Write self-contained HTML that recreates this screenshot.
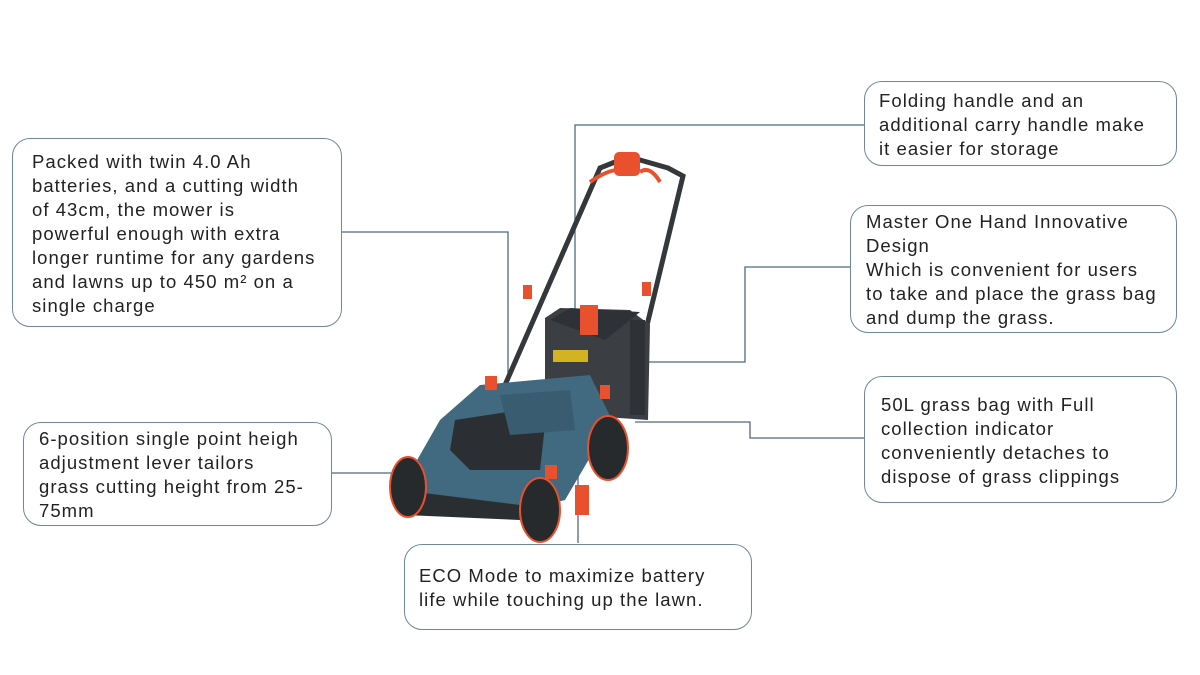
<!DOCTYPE html>
<html><head><meta charset="utf-8"><style>
body{margin:0;width:1200px;height:675px;background:#fff;position:relative;overflow:hidden;font-family:"Liberation Sans",sans-serif;}
.b{position:absolute;border:1.5px solid #6e8898;border-radius:18px;box-sizing:border-box;font-size:18.5px;line-height:24px;color:#222;letter-spacing:1.05px;white-space:nowrap}
svg{position:absolute;left:0;top:0}
</style></head><body>
<svg width="1200" height="675">
<g fill="none" stroke="#4d6b7e" stroke-width="1.3">
<polyline points="342,232 508,232 508,395"/>
<polyline points="864,125 575,125 575,370"/>
<polyline points="850,267 745,267 745,362 640,362"/>
<polyline points="864,438 750,438 750,422 635,422"/>
<polyline points="332,473 463,473"/>
<polyline points="578,543 578,477 537,477 535,410"/>
</g>
<!-- mower -->
<g>
<g fill="none" stroke="#34383b" stroke-width="5" stroke-linecap="round">
<polyline points="505,385 600,168 620,160"/>
<polyline points="640,160 668,168 683,176 635,375"/>
</g>
<path d="M590,182 Q615,165 625,172 M640,172 Q650,165 660,182" stroke="#e8502e" stroke-width="4" fill="none"/>
<rect x="614" y="152" width="26" height="24" rx="5" fill="#e8502e"/>
<polygon points="545,318 560,308 630,310 650,325 648,420 575,415 545,395" fill="#3b3f44"/>
<polygon points="550,320 570,308 640,312 605,340" fill="#2e3236"/>
<rect x="580" y="305" width="18" height="30" fill="#e8502e"/>
<rect x="553" y="350" width="35" height="12" fill="#d4b320"/>
<polygon points="480,385 590,375 612,420 565,500 520,512 400,490 440,420" fill="#41697f"/>
<polygon points="455,420 520,410 545,425 540,470 470,470 450,450" fill="#2b2f33"/>
<polygon points="500,395 570,390 575,430 510,435" fill="#3a5c70"/>
<polygon points="400,490 520,505 520,520 405,515" fill="#2b2e31"/>
<ellipse cx="408" cy="487" rx="18" ry="30" fill="#262a2d" stroke="#e8502e" stroke-width="2"/>
<ellipse cx="540" cy="510" rx="20" ry="32" fill="#262a2d" stroke="#e8502e" stroke-width="2"/>
<ellipse cx="608" cy="448" rx="20" ry="32" fill="#262a2d" stroke="#e8502e" stroke-width="2"/>
<rect x="485" y="376" width="12" height="14" fill="#e8502e"/>
<rect x="600" y="385" width="10" height="14" fill="#e8502e"/>
<rect x="523" y="285" width="9" height="14" fill="#e8502e"/>
<rect x="642" y="282" width="9" height="14" fill="#e8502e"/>
<rect x="545" y="465" width="12" height="14" fill="#e8502e"/>
<rect x="575" y="485" width="14" height="30" fill="#e8502e"/>
<rect x="630" y="320" width="15" height="95" fill="#2e3236"/>
</g>
</svg>
<div class="b" style="left:12px;top:138px;width:330px;height:189px;padding:11px 0 0 19px">Packed with twin 4.0 Ah<br>batteries, and a cutting width<br>of 43cm, the mower is<br>powerful enough with extra<br>longer runtime for any gardens<br>and lawns up to 450 m² on a<br>single charge</div>
<div class="b" style="left:864px;top:81px;width:313px;height:85px;padding:7px 0 0 14px">Folding handle and an<br>additional carry handle make<br>it easier for storage</div>
<div class="b" style="left:850px;top:205px;width:327px;height:128px;padding:4px 0 0 15px">Master One Hand Innovative<br>Design<br>Which is convenient for users<br>to take and place the grass bag<br>and dump the grass.</div>
<div class="b" style="left:864px;top:376px;width:313px;height:127px;padding:16px 0 0 16px">50L grass bag with Full<br>collection indicator<br>conveniently detaches to<br>dispose of grass clippings</div>
<div class="b" style="left:23px;top:422px;width:309px;height:104px;padding:4px 0 0 15px">6-position single point heigh<br>adjustment lever tailors<br>grass cutting height from 25-<br>75mm</div>
<div class="b" style="left:404px;top:544px;width:348px;height:86px;padding:19px 0 0 14px">ECO Mode to maximize battery<br>life while touching up the lawn.</div>
</body></html>
